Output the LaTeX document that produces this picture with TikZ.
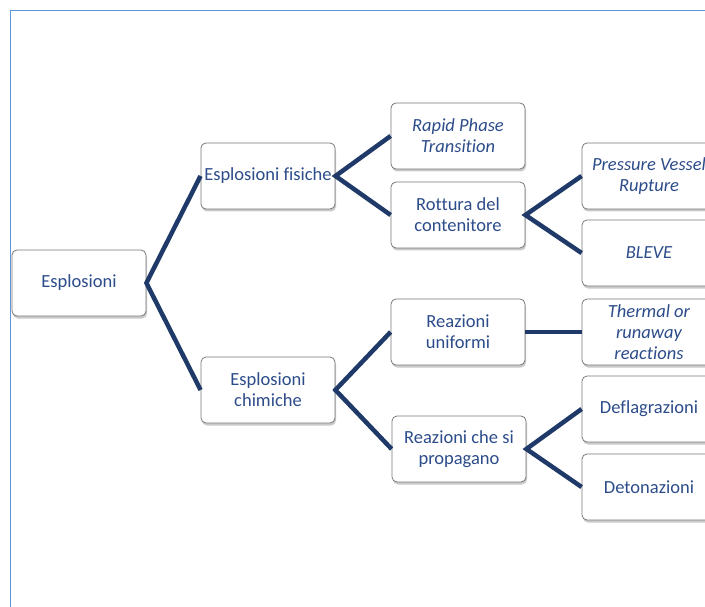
\documentclass[tikz,border=0pt]{standalone}
\usepackage{fontspec}
\setmainfont[Ligatures={NoCommon}]{Carlito}
\usepackage{xcolor}
\usepackage{tikz}
\usetikzlibrary{shadows}
\definecolor{framebl}{RGB}{95,150,215}
\definecolor{linknavy}{RGB}{31,58,104}
\definecolor{textblue}{RGB}{44,76,138}
\definecolor{boxgray}{RGB}{120,120,120}
\tikzset{
  % box of the tree
  box/.style={
    draw=boxgray,
    line width=0.8pt,
    fill=white,
    rounded corners=5pt,
    minimum width=134pt,
    minimum height=66pt,
    align=center,
    text=textblue,
    font=\fontsize{18.5}{20.8}\selectfont,
    drop shadow={shadow xshift=1pt, shadow yshift=-2.5pt, opacity=0.35, fill=black!60}
  },
  % italic box
  ibox/.style={box, font=\fontsize{18.5}{20.8}\selectfont\itshape},
  % connector
  link/.style={draw=linknavy, line width=4.5pt, line join=miter},
}

\begin{document}
\begin{tikzpicture}[x=1pt, y=-1pt]
  \useasboundingbox (0,0) rectangle (705,607);
  \clip (0,0) rectangle (705,607);

  % Frame
  \draw[framebl, line width=1pt] (10,607) -- (10,11) -- (706,11);

  % Level 0
  \node[box] (root) at (79,283) {Esplosioni};

  % Level 1
  \node[box] (fis)  at (268,176) {Esplosioni fisiche};
  \node[box] (chim) at (268,390) {Esplosioni\\chimiche};

  % Level 2
  \node[ibox] (rpt) at (458,136) {Rapid Phase\\Transition};
  \node[box]  (rott) at (458,215) {Rottura del\\contenitore};
  \node[box]  (unif) at (458,332) {Reazioni\\uniformi};
  \node[box]  (prop) at (459,449) {Reazioni che si\\propagano};

  % Level 3
  \node[ibox] (pvr)   at (649,176) {Pressure Vessel\\Rupture};
  \node[ibox] (bleve) at (649,253) {BLEVE};
  \node[ibox] (therm) at (649,332) {Thermal or\\runaway\\reactions};
  \node[box]  (defl)  at (649,409) {Deflagrazioni};
  \node[box]  (deto)  at (649,487) {Detonazioni};

  % Links
  \draw[link] (fis.west) -- (root.east) -- (chim.west);
  \draw[link] (rpt.west) -- (fis.east) -- (rott.west);
  \draw[link] (pvr.west) -- (rott.east) -- (bleve.west);
  \draw[link] (unif.west) -- (chim.east) -- (prop.west);
  \draw[link] (unif.east) -- (therm.west);
  \draw[link] (defl.west) -- (prop.east) -- (deto.west);
\end{tikzpicture}
\end{document}
